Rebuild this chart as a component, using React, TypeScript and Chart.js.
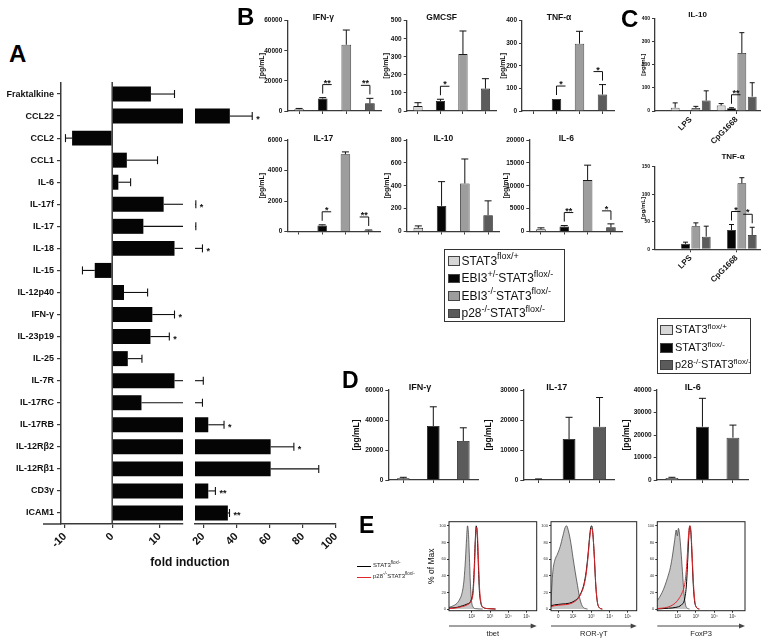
import React, { useEffect, useRef } from "react";
import { Chart, registerables } from "chart.js";

Chart.register(...registerables);
const FONT = "'Liberation Sans', Arial, Helvetica, sans-serif";
Chart.defaults.font.family = FONT;
Chart.defaults.color = "#111";

/* ======================= DATA ======================= */
// Panel A – fold induction
const aCategories = ["Fraktalkine", "CCL22", "CCL2", "CCL1", "IL-6", "IL-17f", "IL-17", "IL-18", "IL-15", "IL-12p40", "IFN-γ", "IL-23p19", "IL-25", "IL-7R", "IL-17RC", "IL-17RB", "IL-12Rβ2", "IL-12Rβ1", "CD3γ", "ICAM1"];
const aFold = [8.2, 36, -8.5, 3.1, 1.3, 10.9, 6.6, 13.2, -3.7, 2.5, 8.5, 8.1, 3.3, 13.2, 6.2, 23, 60.6, 60.6, 23, 34.8];
const aErr = [5.0, 13.5, 1.4, 6.5, 2.6, 4.6, 8.9, 6.3, 2.6, 5.0, 4.7, 4.0, 3.0, 6.8, 13.3, 9.5, 14, 29, 4.3, 1.0];
const aStars = ["", "*", "", "", "", "*", "", "*", "", "", "*", "*", "", "", "", "*", "*", "", "**", "**"];
const aTicksLow = [-10, 0, 10];
const aTicksHigh = [20, 40, 60, 80, 100];
const aLowMin = -10.85;
const aBreak = 15;
const aHighMax = 100;

// Panel B – 4 genotypes
const bSeries = ["STAT3^{flox/+}", "EBI3^{+/-}STAT3^{flox/-}", "EBI3^{-/-}STAT3^{flox/-}", "p28^{-/-}STAT3^{flox/-}"];
const bIfng = [1200, 8300, 44000, 5100];
const bIfngErr = [500, 600, 9800, 3300];
const bGmcsf = [27, 55, 315, 124];
const bGmcsfErr = [19, 10, 128, 55];
const bTnfa = [0, 53, 298, 73];
const bTnfaErr = [0, 0, 55, 44];
const bIl17 = [0, 400, 5070, 60];
const bIl17Err = [0, 40, 150, 40];
const bIl10 = [32, 224, 420, 143];
const bIl10Err = [17, 212, 214, 125];
const bIl6 = [510, 1090, 11240, 940];
const bIl6Err = [290, 210, 3260, 730];

// Panel C – stimuli
const cStimuli = ["LPS", "CpG1668"];
const cSeries = ["STAT3^{flox/+}", "STAT3^{flox/-}", "p28^{-/-}STAT3^{flox/-}"];
const cIl10Light = [14, 24];
const cIl10LightErr = [21, 8];
const cIl10Black = [0, 12];
const cIl10BlackErr = [0, 2];
const cIl10Mid = [13, 250];
const cIl10MidErr = [7, 88];
const cIl10Dark = [45, 62];
const cIl10DarkErr = [42, 60];
const cTnfLight = [0, 0];
const cTnfLightErr = [0, 0];
const cTnfBlack = [10, 35];
const cTnfBlackErr = [3, 10];
const cTnfMid = [42, 120];
const cTnfMidErr = [6, 10];
const cTnfDark = [23, 26];
const cTnfDarkErr = [19, 14];

// Panel D
const dSeries = ["STAT3^{flox/+}", "STAT3^{flox/-}", "p28^{-/-}STAT3^{flox/-}"];
const dIfng = [1100, 36000, 26000];
const dIfngErr = [700, 12800, 8800];
const dIl17 = [250, 13650, 17760];
const dIl17Err = [100, 7250, 9740];
const dIl6 = [900, 23700, 18800];
const dIl6Err = [300, 12600, 5600];

// Panel E – histograms ([log decade, % of max])
const eSeries = ["STAT3^{flox/-}", "p28^{-/-}STAT3^{flox/-}"];
const eYTicks = [0, 20, 40, 60, 80, 100];
const eDecades = [2, 3, 4, 5];
const eDecadeLabels = ["10²", "10³", "10⁴", "10⁵"];
const tbetGray = [[0.76, 2], [1.0, 4], [1.2, 7], [1.35, 12], [1.48, 20], [1.58, 35], [1.66, 60], [1.72, 85], [1.77, 100], [1.82, 92], [1.87, 65], [1.93, 30], [1.99, 10], [2.06, 3], [2.2, 0.5], [2.6, 0]];
const tbetBlack = [[0.76, 1], [1.2, 2], [1.5, 4], [1.75, 6], [1.95, 10], [2.07, 22], [2.14, 50], [2.2, 85], [2.25, 100], [2.3, 90], [2.36, 55], [2.42, 22], [2.5, 7], [2.62, 2], [2.9, 0.5], [3.3, 0]];
const tbetRed = [[0.76, 0.5], [1.2, 1.5], [1.5, 3], [1.75, 5], [1.95, 9], [2.08, 20], [2.15, 48], [2.21, 85], [2.26, 98], [2.31, 92], [2.37, 58], [2.43, 25], [2.51, 8], [2.63, 2], [2.9, 0.5], [3.3, 0]];
const rorGray = [[0.8, 3], [0.84, 25], [0.9, 45], [1.0, 58], [1.15, 66], [1.3, 75], [1.45, 88], [1.57, 98], [1.65, 100], [1.75, 94], [1.88, 80], [2.0, 62], [2.12, 45], [2.25, 28], [2.38, 12], [2.5, 4], [2.62, 1], [2.8, 0]];
const rorBlack = [[0.8, 4], [1.0, 5], [1.4, 6], [1.8, 7], [2.1, 10], [2.3, 14], [2.45, 20], [2.6, 30], [2.72, 45], [2.82, 65], [2.9, 85], [2.97, 98], [3.02, 100], [3.08, 92], [3.16, 65], [3.24, 30], [3.32, 10], [3.42, 2], [3.6, 0]];
const rorRed = [[0.8, 3], [1.0, 4], [1.4, 5], [1.8, 6], [2.1, 9], [2.3, 13], [2.45, 19], [2.6, 28], [2.72, 42], [2.82, 62], [2.9, 82], [2.97, 95], [3.03, 97], [3.09, 90], [3.17, 62], [3.25, 28], [3.33, 9], [3.43, 2], [3.6, 0]];
const foxGray = [[0.885, 10], [1.0, 14], [1.15, 20], [1.3, 28], [1.45, 38], [1.6, 50], [1.72, 65], [1.83, 82], [1.92, 95], [1.98, 88], [2.04, 97], [2.1, 90], [2.18, 70], [2.26, 45], [2.34, 20], [2.42, 6], [2.5, 1.5], [2.65, 0]];
const foxBlack = [[0.885, 0], [1.5, 1], [1.9, 2], [2.2, 5], [2.38, 12], [2.48, 30], [2.55, 60], [2.61, 88], [2.66, 100], [2.72, 92], [2.78, 65], [2.85, 30], [2.92, 10], [3.0, 3], [3.15, 0]];
const foxRed = [[0.885, 0.5], [1.4, 2], [1.8, 6], [2.05, 12], [2.25, 20], [2.4, 32], [2.5, 55], [2.57, 82], [2.63, 97], [2.68, 100], [2.74, 88], [2.8, 60], [2.87, 28], [2.94, 9], [3.02, 2], [3.2, 0]];

/* ======================= STYLE ======================= */
const LIGHT = "#d6d6d6";
const BLACK = "#050505";
const MID = "#9d9d9d";
const DARK = "#5b5b5b";
const AXIS = "#3a3a3a";
const RED = "#e0262b";

const val = (d: any) => (d !== null && typeof d === "object" ? d.y : d);

/* ======================= PLUGIN ======================= */
const decor = {
  id: "decor",
  afterDatasetsDraw(chart: any) {
    const o = chart.options.plugins.decor || {};
    const ctx = chart.ctx;
    const xs = chart.scales.x;
    const ys = chart.scales.y;
    ctx.save();
    ctx.lineWidth = 1;
    ctx.strokeStyle = "#111";
    ctx.fillStyle = "#111";
    if (o.kind === "vbar") {
      chart.data.datasets.forEach((ds: any, di: number) => {
        const meta = chart.getDatasetMeta(di);
        (ds.errors || []).forEach((e: number, j: number) => {
          if (!e) return;
          const el = meta.data[j];
          const t = ys.getPixelForValue(val(ds.data[j]) + e);
          ctx.beginPath();
          ctx.moveTo(el.x, el.y);
          ctx.lineTo(el.x, t);
          ctx.moveTo(el.x - o.capW / 2, t);
          ctx.lineTo(el.x + o.capW / 2, t);
          ctx.stroke();
        });
      });
      (o.sig || []).forEach((s: any) => {
        const ds = chart.data.datasets[s.ds];
        const el = chart.getDatasetMeta(s.ds).data[s.i];
        const t = ys.getPixelForValue(val(ds.data[s.i]) + ((ds.errors || [])[s.i] || 0));
        const y1 = t - 4;
        const y2 = t - 13;
        ctx.beginPath();
        ctx.moveTo(el.x, y1);
        ctx.lineTo(el.x, y2);
        ctx.lineTo(el.x + s.dir * 9, y2);
        ctx.stroke();
        ctx.font = `bold 9px ${FONT}`;
        ctx.textAlign = "center";
        ctx.textBaseline = "alphabetic";
        ctx.fillText(s.text, el.x + s.dir * 4.5, y2 + 1);
      });
    }
    if (o.kind === "hbar") {
      const ds = chart.data.datasets[0];
      const lo = xs.min;
      const hi = xs.max;
      ctx.lineWidth = 1.1;
      ds.data.forEach((v: number, i: number) => {
        const e = ds.errors[i];
        const end = v + (v < 0 ? -e : e);
        const y = ys.getPixelForValue(i);
        const a = Math.max(Math.min(v, end), lo);
        const b = Math.min(Math.max(v, end), hi);
        if (a < b) {
          ctx.beginPath();
          ctx.moveTo(xs.getPixelForValue(a), y);
          ctx.lineTo(xs.getPixelForValue(b), y);
          ctx.stroke();
        }
        if (end >= lo && end <= hi && v !== end) {
          const xe = xs.getPixelForValue(end);
          ctx.beginPath();
          ctx.moveTo(xe, y - 4);
          ctx.lineTo(xe, y + 4);
          ctx.stroke();
          if (ds.stars[i]) {
            ctx.font = `bold 9px ${FONT}`;
            ctx.textAlign = v < 0 ? "right" : "left";
            ctx.textBaseline = "alphabetic";
            ctx.fillText(ds.stars[i], xe + (v < 0 ? -4 : 4), y + 5.5);
          }
        }
      });
      const ca = chart.chartArea;
      if (o.zeroLine) {
        ctx.strokeStyle = AXIS;
        ctx.lineWidth = 1.5;
        const x0 = xs.getPixelForValue(0);
        ctx.beginPath();
        ctx.moveTo(x0, ca.top - 1);
        ctx.lineTo(x0, ca.bottom);
        ctx.stroke();
      }
      if (o.axisExt) {
        ctx.strokeStyle = AXIS;
        ctx.lineWidth = 1.5;
        ctx.beginPath();
        ctx.moveTo(ca.left - o.axisExt, ca.bottom);
        ctx.lineTo(ca.left, ca.bottom);
        ctx.stroke();
      }
    }
    ctx.restore();
  },
  afterDraw(chart: any) {
    const o = chart.options.plugins.decor || {};
    const ctx = chart.ctx;
    const ca = chart.chartArea;
    ctx.save();
    ctx.fillStyle = "#111";
    ctx.strokeStyle = "#222";
    if (o.title) {
      ctx.font = o.title.font;
      ctx.textAlign = "center";
      ctx.textBaseline = "middle";
      ctx.fillText(o.title.text, ca.left + o.title.dx, ca.top + o.title.dy);
    }
    if (o.yTitle) {
      ctx.save();
      ctx.translate(ca.left - o.yTitle.off, (ca.top + ca.bottom) / 2);
      ctx.rotate(-Math.PI / 2);
      ctx.font = o.yTitle.font;
      ctx.textAlign = "center";
      ctx.textBaseline = "middle";
      ctx.fillText(o.yTitle.text, 0, 0);
      ctx.restore();
    }
    if (o.kind === "hist") {
      ctx.lineWidth = 1;
      ctx.strokeRect(ca.left, ca.top, ca.right - ca.left, ca.bottom - ca.top);
      const ya = ca.bottom + o.arrowDy;
      ctx.strokeStyle = "#444";
      ctx.fillStyle = "#444";
      ctx.beginPath();
      ctx.moveTo(ca.left, ya);
      ctx.lineTo(ca.right - 4, ya);
      ctx.stroke();
      ctx.beginPath();
      ctx.moveTo(ca.right, ya);
      ctx.lineTo(ca.right - 6, ya - 2.5);
      ctx.lineTo(ca.right - 6, ya + 2.5);
      ctx.closePath();
      ctx.fill();
      ctx.fillStyle = "#222";
      ctx.font = `7.5px ${FONT}`;
      ctx.textAlign = "center";
      ctx.textBaseline = "middle";
      ctx.fillText(o.xLabel, (ca.left + ca.right) / 2, ca.bottom + o.labelDy);
    }
    ctx.restore();
  },
};

/* ======================= BUILDERS ======================= */
const plain = (v: any) => String(v);

function vbar(p: any) {
  const left = Math.round(p.axisX - p.axisW);
  const axisW = p.axisX - left;
  const top = Math.round(p.plotTop - p.padTop);
  const padTop = p.plotTop - top;
  const width = Math.round(axisW + p.plotW + p.padRight);
  const height = Math.round(padTop + p.plotH + p.xAxisH);
  const padRight = width - axisW - p.plotW;
  const xAxisH = height - padTop - p.plotH;
  const make = () => {
    const linear = !!p.xRange;
    const datasets = p.series.map((s: any) => ({
      data: linear ? s.data.map((v: number, i: number) => ({ x: i + 1, y: v })) : s.data,
      errors: s.err,
      backgroundColor: s.color,
      borderColor: "#1a1a1a",
      borderWidth: 0.8,
      barPercentage: p.barPct,
      categoryPercentage: p.catPct,
    }));
    const x: any = linear
      ? {
          type: "linear",
          offset: false,
          min: p.xRange[0],
          max: p.xRange[1],
          afterBuildTicks: (s: any) => {
            s.ticks = p.labels.map((_: any, i: number) => ({ value: i + 1 }));
          },
          ticks: {
            callback: (v: number) => p.labels[v - 1] ?? "",
            font: { size: 8, weight: "bold" },
            minRotation: 45,
            maxRotation: 45,
            autoSkip: false,
            padding: 1,
            color: "#111",
          },
        }
      : { type: "category", offset: true, ticks: { display: false } };
    x.grid = { display: true, drawOnChartArea: false, drawTicks: true, tickLength: 3, offset: false, color: AXIS, lineWidth: 1 };
    x.border = { display: true, color: AXIS, width: 1.3 };
    x.afterFit = (s: any) => {
      s.height = xAxisH;
    };
    return {
      type: "bar",
      data: { labels: linear ? undefined : p.labels, datasets },
      options: {
        responsive: false,
        maintainAspectRatio: false,
        animation: false,
        devicePixelRatio: 1,
        layout: { padding: { left: 0, top: padTop, right: padRight, bottom: 0 } },
        plugins: {
          legend: { display: false },
          tooltip: { enabled: false },
          decor: {
            kind: "vbar",
            capW: p.capW,
            sig: p.sig,
            title: { text: p.title, dx: p.tdx, dy: p.tdy, font: p.titleFont },
            yTitle: { text: "[pg/mL]", off: p.yOff, font: p.yTitleFont },
          },
        },
        scales: {
          x,
          y: {
            min: 0,
            max: p.yMax,
            afterBuildTicks: (s: any) => {
              const t = [];
              for (let v = 0; v <= p.yMax + 1e-9; v += p.yStep) t.push({ value: v });
              s.ticks = t;
            },
            ticks: { font: { size: p.tickSize, weight: "bold" }, padding: 2, color: "#111", callback: plain },
            grid: { drawOnChartArea: false, tickLength: 3, color: AXIS, lineWidth: 1 },
            border: { color: AXIS, width: 1.3 },
            afterFit: (s: any) => {
              s.width = axisW;
            },
          },
        },
      },
      plugins: [decor],
    };
  };
  return { left, top, width, height, make };
}

function aChart(low: boolean) {
  const plotL = low ? 61 : 195;
  const plotR = low ? 183 : 336;
  const left = low ? 0 : 175;
  const padLeft = low ? 0 : plotL - left;
  const axisW = low ? 61 : 0;
  const padRight = low ? 8 : 26;
  const padTop = 13;
  const top = 70;
  const plotH = 441;
  const xAxisH = 34;
  const width = plotR - left + padRight;
  const height = padTop + plotH + xAxisH;
  const make = () => ({
    type: "bar",
    data: {
      labels: aCategories,
      datasets: [
        {
          data: aFold,
          errors: aErr,
          stars: aStars,
          backgroundColor: BLACK,
          barPercentage: 0.68,
          categoryPercentage: 1,
          clip: 0,
        },
      ],
    },
    options: {
      indexAxis: "y",
      responsive: false,
      maintainAspectRatio: false,
      animation: false,
      devicePixelRatio: 1,
      layout: { padding: { left: padLeft, top: padTop, right: padRight, bottom: 0 } },
      plugins: {
        legend: { display: false },
        tooltip: { enabled: false },
        decor: { kind: "hbar", zeroLine: low, axisExt: low ? 18 : 0 },
      },
      scales: {
        x: {
          type: "linear",
          min: low ? aLowMin : aBreak,
          max: low ? aBreak : aHighMax,
          afterBuildTicks: (s: any) => {
            s.ticks = (low ? aTicksLow : aTicksHigh).map((v) => ({ value: v }));
          },
          ticks: { font: { size: 11, weight: "bold" }, minRotation: 45, maxRotation: 45, autoSkip: false, padding: 2, color: "#111", callback: plain },
          grid: { drawOnChartArea: false, tickLength: 4, color: AXIS, lineWidth: 1.2 },
          border: { color: AXIS, width: 1.5 },
          afterFit: (s: any) => {
            s.height = xAxisH;
          },
        },
        y: {
          type: "category",
          display: low,
          offset: true,
          grid: { offset: false, drawOnChartArea: false, tickLength: 4, color: AXIS, lineWidth: 1.2 },
          border: { color: AXIS, width: 1.5 },
          ticks: { font: { size: 9, weight: "bold" }, padding: 3, autoSkip: false, color: "#111" },
          afterFit: (s: any) => {
            s.width = axisW;
          },
        },
      },
    },
    plugins: [decor],
  });
  return { left, top, width, height, make };
}

function hist(p: any) {
  const axisW = p.axisW;
  const padTop = 6;
  const padRight = 4;
  const xAxisH = 30;
  const left = Math.round(p.boxL - axisW);
  const top = Math.round(p.boxT - padTop);
  const plotW = p.boxR - p.boxL;
  const plotH = p.boxB - p.boxT;
  const aw = p.boxL - left;
  const pt = p.boxT - top;
  const width = Math.round(aw + plotW + padRight);
  const height = Math.round(pt + plotH + xAxisH);
  const pr = width - aw - plotW;
  const xh = height - pt - plotH;
  const toXY = (arr: number[][]) => arr.map(([x, y]) => ({ x, y }));
  const make = () => ({
    type: "line",
    data: {
      datasets: [
        { data: toXY(p.red), borderColor: RED, borderWidth: 1, pointRadius: 0, fill: false, cubicInterpolationMode: "monotone" },
        { data: toXY(p.black), borderColor: "#000", borderWidth: 1, pointRadius: 0, fill: false, cubicInterpolationMode: "monotone" },
        { data: toXY(p.gray), borderColor: "#333", borderWidth: 0.7, backgroundColor: "#c6c6c6", pointRadius: 0, fill: "origin", cubicInterpolationMode: "monotone" },
      ],
    },
    options: {
      responsive: false,
      maintainAspectRatio: false,
      animation: false,
      devicePixelRatio: 1,
      layout: { padding: { left: 0, top: pt, right: pr, bottom: 0 } },
      plugins: {
        legend: { display: false },
        tooltip: { enabled: false },
        decor: {
          kind: "hist",
          arrowDy: 15.3,
          labelDy: 23.3,
          xLabel: p.xLabel,
          yTitle: p.yTitle ? { text: p.yTitle, off: 17.3, font: `8.5px ${FONT}` } : null,
        },
      },
      scales: {
        x: {
          type: "linear",
          min: p.xMin,
          max: p.xMax,
          afterBuildTicks: (s: any) => {
            s.ticks = p.ticks.map((v: number) => ({ value: v }));
          },
          ticks: {
            callback: (v: number) => p.tickLabels[p.ticks.indexOf(v)] ?? "",
            font: { size: 4.5 },
            padding: 1,
            maxRotation: 0,
            autoSkip: false,
            color: "#333",
          },
          grid: { drawOnChartArea: false, tickLength: 2, color: "#333" },
          border: { display: false },
          afterFit: (s: any) => {
            s.height = xh;
          },
        },
        y: {
          min: -2,
          max: 105,
          afterBuildTicks: (s: any) => {
            s.ticks = eYTicks.map((v) => ({ value: v }));
          },
          ticks: { font: { size: 4 }, padding: 1, color: "#333", callback: plain },
          grid: { drawOnChartArea: false, tickLength: 2, color: "#333" },
          border: { display: false },
          afterFit: (s: any) => {
            s.width = aw;
          },
        },
      },
    },
    plugins: [decor],
  });
  return { left, top, width, height, make };
}

/* ======================= SPECS ======================= */
const bColors = [LIGHT, BLACK, MID, DARK];
const dColors = [LIGHT, BLACK, DARK];
const bCommon = { padTop: 14, xAxisH: 6, padRight: 4, barPct: 0.41, catPct: 1, capW: 7, tickSize: 6.5, axisW: 32, labels: bSeries, titleFont: `bold 8.5px ${FONT}`, yTitleFont: `bold 7px ${FONT}` };
const dCommon = { padTop: 14, xAxisH: 6, padRight: 4, barPct: 0.42, catPct: 1, capW: 7, tickSize: 6.5, axisW: 40, labels: dSeries, titleFont: `bold 9px ${FONT}`, yTitleFont: `bold 8.5px ${FONT}` };
const cCommon = { xAxisH: 34, padRight: 4, barPct: 0.85, catPct: 0.9, capW: 5, tickSize: 5, axisW: 26, labels: cStimuli, xRange: [0.224, 2.507], titleFont: `bold 8px ${FONT}`, yTitleFont: `bold 6px ${FONT}` };

const specs = [
  aChart(true),
  aChart(false),
  vbar({ ...bCommon, axisX: 287.3, plotTop: 20.7, plotH: 90.3, plotW: 94.4, yMax: 60000, yStep: 20000, series: [{ data: bIfng, err: bIfngErr, color: bColors }], title: "IFN-γ", tdx: 36, tdy: -2.7, yOff: 25, sig: [{ ds: 0, i: 1, dir: 1, text: "**" }, { ds: 0, i: 3, dir: -1, text: "**" }] }),
  vbar({ ...bCommon, axisX: 406.7, plotTop: 20.7, plotH: 90.3, plotW: 90, yMax: 500, yStep: 100, series: [{ data: bGmcsf, err: bGmcsfErr, color: bColors }], title: "GMCSF", tdx: 35, tdy: -2.7, yOff: 20.7, sig: [{ ds: 0, i: 1, dir: 1, text: "*" }] }),
  vbar({ ...bCommon, axisX: 522, plotTop: 20.7, plotH: 90.3, plotW: 92, yMax: 400, yStep: 100, series: [{ data: bTnfa, err: bTnfaErr, color: bColors }], title: "TNF-α", tdx: 37, tdy: -2.7, yOff: 18.7, sig: [{ ds: 0, i: 1, dir: 1, text: "*" }, { ds: 0, i: 3, dir: -1, text: "*" }] }),
  vbar({ ...bCommon, axisX: 287.3, plotTop: 140, plotH: 91.5, plotW: 93, yMax: 6000, yStep: 2000, series: [{ data: bIl17, err: bIl17Err, color: bColors }], title: "IL-17", tdx: 36, tdy: -1, yOff: 25.6, sig: [{ ds: 0, i: 1, dir: 1, text: "*" }, { ds: 0, i: 3, dir: -1, text: "**" }] }),
  vbar({ ...bCommon, axisX: 406.7, plotTop: 140, plotH: 91.5, plotW: 93, yMax: 800, yStep: 200, series: [{ data: bIl10, err: bIl10Err, color: bColors }], title: "IL-10", tdx: 36.7, tdy: -1, yOff: 20, sig: [] }),
  vbar({ ...bCommon, axisX: 529.3, plotTop: 140, plotH: 91.5, plotW: 93.3, yMax: 20000, yStep: 5000, series: [{ data: bIl6, err: bIl6Err, color: bColors }], title: "IL-6", tdx: 37, tdy: -1, yOff: 23, sig: [{ ds: 0, i: 1, dir: 1, text: "**" }, { ds: 0, i: 3, dir: -1, text: "*" }] }),
  vbar({
    ...cCommon, padTop: 14, axisX: 655, plotTop: 18.3, plotH: 92.7, plotW: 105, yMax: 400, yStep: 100,
    series: [
      { data: cIl10Light, err: cIl10LightErr, color: LIGHT },
      { data: cIl10Black, err: cIl10BlackErr, color: BLACK },
      { data: cIl10Mid, err: cIl10MidErr, color: MID },
      { data: cIl10Dark, err: cIl10DarkErr, color: DARK },
    ],
    title: "IL-10", tdx: 42.5, tdy: -3.3, yOff: 11.5, sig: [{ ds: 1, i: 1, dir: 1, text: "**" }],
  }),
  vbar({
    ...cCommon, padTop: 20, axisX: 655, plotTop: 166.7, plotH: 82.6, plotW: 105, yMax: 150, yStep: 50,
    series: [
      { data: cTnfLight, err: cTnfLightErr, color: LIGHT },
      { data: cTnfBlack, err: cTnfBlackErr, color: BLACK },
      { data: cTnfMid, err: cTnfMidErr, color: MID },
      { data: cTnfDark, err: cTnfDarkErr, color: DARK },
    ],
    title: "TNF-α", tdx: 78, tdy: -10, yOff: 11.5, sig: [{ ds: 1, i: 1, dir: 1, text: "*" }, { ds: 3, i: 1, dir: -1, text: "*" }],
  }),
  vbar({ ...dCommon, axisX: 388.3, plotTop: 390, plotH: 90, plotW: 90, yMax: 60000, yStep: 20000, series: [{ data: dIfng, err: dIfngErr, color: dColors }], title: "IFN-γ", tdx: 31.7, tdy: -2.7, yOff: 31.6, sig: [] }),
  vbar({ ...dCommon, axisX: 523.3, plotTop: 390, plotH: 90, plotW: 91.5, yMax: 30000, yStep: 10000, series: [{ data: dIl17, err: dIl17Err, color: dColors }], title: "IL-17", tdx: 33.4, tdy: -2.7, yOff: 35, sig: [] }),
  vbar({ ...dCommon, axisX: 656.7, plotTop: 390, plotH: 90, plotW: 91.5, yMax: 40000, yStep: 10000, series: [{ data: dIl6, err: dIl6Err, color: dColors }], title: "IL-6", tdx: 36, tdy: -2.7, yOff: 30, sig: [] }),
  hist({ boxL: 449, boxR: 536.7, boxT: 521.7, boxB: 610.7, axisW: 30, xMin: 0.76, xMax: 5.55, ticks: eDecades, tickLabels: eDecadeLabels, gray: tbetGray, black: tbetBlack, red: tbetRed, xLabel: "tbet", yTitle: "% of Max" }),
  hist({ boxL: 551, boxR: 636.7, boxT: 521.7, boxB: 610.7, axisW: 12, xMin: 0.8, xMax: 5.48, ticks: [1.2, ...eDecades], tickLabels: ["0", ...eDecadeLabels], gray: rorGray, black: rorBlack, red: rorRed, xLabel: "ROR-γT" }),
  hist({ boxL: 657.3, boxR: 745, boxT: 521.7, boxB: 610.7, axisW: 12, xMin: 0.885, xMax: 5.68, ticks: eDecades, tickLabels: eDecadeLabels, gray: foxGray, black: foxBlack, red: foxRed, xLabel: "FoxP3" }),
];

/* ======================= COMPONENTS ======================= */
function ChartCanvas({ spec }: { spec: any }) {
  const ref = useRef<HTMLCanvasElement | null>(null);
  useEffect(() => {
    const chart = new Chart(ref.current as HTMLCanvasElement, spec.make());
    return () => chart.destroy();
  }, [spec]);
  return (
    <canvas
      ref={ref}
      width={spec.width}
      height={spec.height}
      style={{ position: "absolute", left: spec.left, top: spec.top, width: spec.width, height: spec.height }}
    />
  );
}

function Rich({ text, sup }: { text: string; sup: number }) {
  const parts = text.split(/\^\{([^}]*)\}/);
  return (
    <>
      {parts.map((p, i) =>
        i % 2 ? (
          <span key={i} style={{ fontSize: sup, position: "relative", top: -sup * 0.6 }}>
            {p}
          </span>
        ) : (
          <span key={i}>{p}</span>
        )
      )}
    </>
  );
}

function Letter({ ch, x, capTop, size = 24 }: { ch: string; x: number; capTop: number; size?: number }) {
  return (
    <div style={{ position: "absolute", left: x, top: capTop - size * 0.13, fontSize: size, lineHeight: `${size}px`, fontWeight: "bold", fontFamily: FONT, color: "#000" }}>
      {ch}
    </div>
  );
}

function LegendBox({ x, y, w, h, rows, names, colors, font, sup, swW, swH }: any) {
  return (
    <div style={{ position: "absolute", left: x, top: y, width: w, height: h, border: "1px solid #333", boxSizing: "border-box", fontFamily: FONT, color: "#111" }}>
      {names.map((n: string, i: number) => (
        <div key={i} style={{ position: "absolute", left: 2.5, top: rows[i] - 8, height: 16, display: "flex", alignItems: "center", whiteSpace: "nowrap", fontSize: font }}>
          <span style={{ display: "inline-block", width: swW, height: swH, background: colors[i], border: "1px solid #444", boxSizing: "border-box", marginRight: 2 }} />
          <span style={{ lineHeight: `${font}px` }}>
            <Rich text={n} sup={sup} />
          </span>
        </div>
      ))}
    </div>
  );
}

export default function App() {
  return (
    <div style={{ position: "absolute", left: 0, top: 0, width: 764, height: 644, background: "#fff", overflow: "hidden", fontFamily: FONT }}>
      {specs.map((s, i) => (
        <ChartCanvas key={i} spec={s} />
      ))}
      <Letter ch="A" x={9} capTop={45} />
      <Letter ch="B" x={237} capTop={8} />
      <Letter ch="C" x={621} capTop={10} />
      <Letter ch="D" x={342} capTop={372} size={23} />
      <Letter ch="E" x={359} capTop={517} size={23} />
      <div style={{ position: "absolute", left: 130, width: 120, top: 554, textAlign: "center", fontWeight: "bold", fontSize: 12, lineHeight: "16px", color: "#111" }}>
        fold induction
      </div>
      <LegendBox x={444} y={249} w={121} h={73} rows={[11, 28.5, 46, 63.5]} names={bSeries} colors={bColors} font={12} sup={9} swW={12} swH={9.5} />
      <LegendBox x={656.5} y={318} w={94} h={56} rows={[11.3, 29.3, 46.3]} names={cSeries} colors={[LIGHT, BLACK, DARK]} font={11} sup={8} swW={13} swH={10} />
      <div style={{ position: "absolute", left: 357, top: 565.5, width: 14, borderTop: "1px solid #000" }} />
      <div style={{ position: "absolute", left: 357, top: 576.5, width: 14, borderTop: `1px solid ${RED}` }} />
      <div style={{ position: "absolute", left: 373, top: 561, fontSize: 6, lineHeight: "9px", color: "#222", whiteSpace: "nowrap" }}>
        <Rich text={eSeries[0]} sup={4.5} />
      </div>
      <div style={{ position: "absolute", left: 373, top: 572, fontSize: 6, lineHeight: "9px", color: "#222", whiteSpace: "nowrap" }}>
        <Rich text={eSeries[1]} sup={4.5} />
      </div>
    </div>
  );
}
